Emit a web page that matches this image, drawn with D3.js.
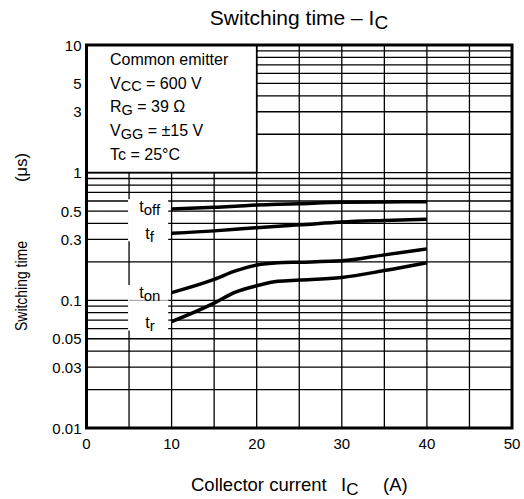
<!DOCTYPE html>
<html>
<head>
<meta charset="utf-8">
<script src="https://cdn.jsdelivr.net/npm/d3@7/dist/d3.min.js"></script>
<style>
  body { margin: 0; background: #fff; }
  svg text { font-family: "Liberation Sans", Arial, sans-serif; fill: #000; }
</style>
</head>
<body>
<svg width="524" height="499"></svg>
<script>
// **** data ****
var current = [10, 15, 17.5, 20, 22.5, 25, 30, 35, 40];
var tOff = [0.52, 0.535, 0.545, 0.558, 0.565, 0.572, 0.586, 0.59, 0.593];
var tF   = [0.335, 0.35, 0.36, 0.371, 0.381, 0.39, 0.411, 0.422, 0.431];
var tOn  = [0.115, 0.146, 0.17, 0.189, 0.197, 0.199, 0.204, 0.227, 0.253];
var tR   = [0.068, 0.095, 0.116, 0.13, 0.141, 0.144, 0.151, 0.171, 0.197];

var xTicks = [0, 10, 20, 30, 40, 50];
var yTicks = [10, 5, 3, 1, 0.5, 0.3, 0.1, 0.05, 0.03, 0.01];
var conditions = [
    ['Common emitter'],
    ['V', 'CC', ' = 600 V'],
    ['R', 'G', ' = 39 \u03A9'],
    ['V', 'GG', ' = \u00B115 V'],
    ['Tc = 25\u00B0C']
];

// curve label text, placed at (lx in A, ly in us)
var series = [
    { sub: 'off', values: tOff, lx: 6.2, ly: 0.495 },
    { sub: 'f',   values: tF,   lx: 6.9, ly: 0.301 },
    { sub: 'on',  values: tOn,  lx: 6.2, ly: 0.105 },
    { sub: 'r',   values: tR,   lx: 6.9, ly: 0.0608 }
];

// **** scales ****
var xScale = d3.scaleLinear().domain([0, 50]).range([86.5, 512]);
var yScale = d3.scaleLog().domain([0.01, 10]).range([428, 45]);

var svg = d3.select('svg');
var grid = svg.append('g');

// minor log lines
var minor = [];
[0.01, 0.1, 1].forEach(function(dec){
    for (var k = 1; k < 10; k++) minor.push(dec * k);
});

grid.selectAll('.hline')
    .data(minor)
    .enter()
    .append('line')
    .attr('x1', xScale(0)).attr('x2', xScale(50))
    .attr('y1', function(d){ return yScale(d); })
    .attr('y2', function(d){ return yScale(d); })
    .attr('stroke', '#000').attr('stroke-width', 1.3);

grid.selectAll('.vline')
    .data(d3.range(5, 50, 5))
    .enter()
    .append('line')
    .attr('x1', function(d){ return xScale(d); })
    .attr('x2', function(d){ return xScale(d); })
    .attr('y1', yScale(0.01)).attr('y2', yScale(10))
    .attr('stroke', '#000').attr('stroke-width', 1.3);

// conditions box (covers grid in top-left)
svg.append('rect')
    .attr('x', xScale(0)).attr('y', yScale(10))
    .attr('width', xScale(20) - xScale(0))
    .attr('height', yScale(1) - yScale(10))
    .attr('fill', '#fff');
svg.append('path')
    .attr('d', 'M' + xScale(20) + ',' + yScale(10) + 'V' + yScale(1) + 'H' + xScale(0))
    .attr('fill', 'none').attr('stroke', '#000').attr('stroke-width', 1.6);

// white patches behind curve labels
svg.append('rect')
    .attr('x', xScale(5) - 1).attr('y', yScale(0.62))
    .attr('width', xScale(9.6) - xScale(5) + 1)
    .attr('height', yScale(0.29) - yScale(0.62))
    .attr('fill', '#fff');
svg.append('rect')
    .attr('x', xScale(5) - 1).attr('y', yScale(0.132))
    .attr('width', xScale(9.6) - xScale(5) + 1)
    .attr('height', yScale(0.058) - yScale(0.132))
    .attr('fill', '#fff');
svg.append('line')
    .attr('x1', xScale(5)).attr('x2', xScale(9.6))
    .attr('y1', yScale(0.1)).attr('y2', yScale(0.1))
    .attr('stroke', '#999').attr('stroke-width', 1);

// frame
svg.append('rect')
    .attr('x', xScale(0)).attr('y', yScale(10))
    .attr('width', xScale(50) - xScale(0))
    .attr('height', yScale(0.01) - yScale(10))
    .attr('fill', 'none').attr('stroke', '#000').attr('stroke-width', 3);

// curves
var line = d3.line()
    .x(function(d){ return xScale(d[0]); })
    .y(function(d){ return yScale(d[1]); })
    .curve(d3.curveMonotoneX);

series.forEach(function(s){
    svg.append('path')
        .datum(current.map(function(c, i){ return [c, s.values[i]]; }))
        .attr('d', line)
        .attr('fill', 'none')
        .attr('stroke', '#000')
        .attr('stroke-width', 3.5);

    var t = svg.append('text')
        .attr('x', xScale(s.lx))
        .attr('y', yScale(s.ly))
        .attr('font-size', 16);
    t.append('tspan').text('t');
    t.append('tspan').attr('dy', 3).attr('font-size', 15).text(s.sub);
});

// conditions text
conditions.forEach(function(c, i){
    var t = svg.append('text')
        .attr('x', 110)
        .attr('y', 65 + i * 23.7)
        .attr('font-size', 16);
    t.append('tspan').text(c[0]);
    if (c.length > 1) {
        t.append('tspan').attr('dy', 2.5).attr('font-size', 14.5).text(c[1]);
        t.append('tspan').attr('dy', -2.5).text(c[2]);
    }
});

// tick labels
svg.selectAll('.ylab')
    .data(yTicks)
    .enter()
    .append('text')
    .attr('x', 81.5)
    .attr('y', function(d){ return yScale(d) + 5.5; })
    .attr('text-anchor', 'end')
    .attr('font-size', 15)
    .text(function(d){ return d; });

svg.selectAll('.xlab')
    .data(xTicks)
    .enter()
    .append('text')
    .attr('x', function(d){ return xScale(d); })
    .attr('y', 449)
    .attr('text-anchor', 'middle')
    .attr('font-size', 15)
    .text(function(d){ return d; });

// title
var title = svg.append('text')
    .attr('x', 299).attr('y', 25)
    .attr('text-anchor', 'middle')
    .attr('font-size', 21);
title.append('tspan').text('Switching time \u2013 I');
title.append('tspan').attr('dy', 4).attr('font-size', 19).text('C');

// axis labels
var xl = svg.append('text')
    .attr('x', 191).attr('y', 491)
    .attr('font-size', 18.5);
xl.append('tspan').text('Collector current');
xl.append('tspan').attr('x', 341).text('I');
xl.append('tspan').attr('dy', 3.5).attr('font-size', 17).text('C');
xl.append('tspan').attr('x', 383).attr('dy', -3.5).text('(A)');

svg.append('text')
    .attr('transform', 'translate(27,331) rotate(-90)')
    .attr('font-size', 17)
    .attr('textLength', 90)
    .attr('lengthAdjust', 'spacingAndGlyphs')
    .text('Switching time');
svg.append('text')
    .attr('transform', 'translate(27,182) rotate(-90)')
    .attr('font-size', 17)
    .attr('textLength', 29)
    .attr('lengthAdjust', 'spacingAndGlyphs')
    .text('(\u03BCs)');
</script>
</body>
</html>
